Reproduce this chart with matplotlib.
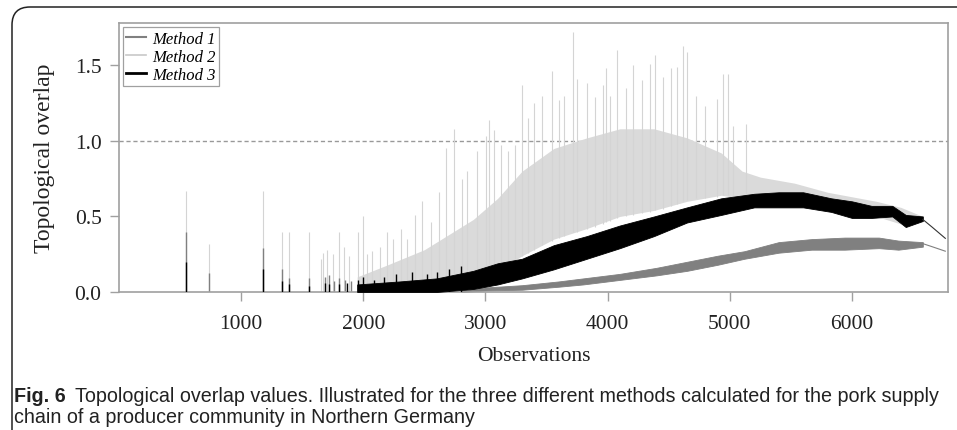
import numpy as np
import matplotlib
matplotlib.use("Agg")
import matplotlib.pyplot as plt
from matplotlib.lines import Line2D
from matplotlib.patches import FancyBboxPatch
from matplotlib.transforms import IdentityTransform

# ---- data ----
# Method 1 (mid grey): band envelope + early spikes
m1_x = [2800, 3000, 3300, 3600, 3800, 4100, 4400, 4650, 4900, 5120, 5400, 5670, 5940, 6220, 6380, 6580]
m1_lo = [0.00, 0.01, 0.015, 0.035, 0.05, 0.08, 0.11, 0.14, 0.18, 0.22, 0.26, 0.28, 0.28, 0.29, 0.28, 0.30]
m1_hi = [0.01, 0.03, 0.045, 0.07, 0.09, 0.12, 0.16, 0.20, 0.24, 0.27, 0.33, 0.35, 0.36, 0.36, 0.34, 0.33]
m1_tail_x = [6580, 6655, 6764]
m1_tail_y = [0.32, 0.30, 0.27]
m1_spike_x = [547, 736, 1179, 1335, 1395, 1559, 1690, 1720, 1760, 1800, 1850, 1900]
m1_spike_y = [0.40, 0.125, 0.29, 0.15, 0.095, 0.09, 0.10, 0.11, 0.07, 0.09, 0.08, 0.07]

# Method 2 (light grey): dense cloud envelope + tall spikes
m2_x = [1950, 2200, 2500, 2700, 2900, 3100, 3300, 3560, 3830, 4100, 4380, 4650, 4930, 5100, 5250, 5530, 5800, 6000, 6200, 6400, 6580]
m2_lo = [0.00, 0.00, 0.02, 0.05, 0.08, 0.14, 0.24, 0.35, 0.42, 0.50, 0.54, 0.60, 0.64, 0.62, 0.63, 0.62, 0.58, 0.53, 0.50, 0.45, 0.47]
m2_hi = [0.10, 0.18, 0.28, 0.38, 0.48, 0.62, 0.80, 0.95, 1.02, 1.08, 1.08, 1.02, 0.92, 0.80, 0.76, 0.72, 0.66, 0.63, 0.60, 0.56, 0.50]
m2_spike_x = [547, 736, 1179, 1335, 1395, 1559, 1657, 1673, 1700, 1753, 1799, 1846, 1881, 1958, 1994,
              2032, 2073, 2136, 2196, 2240, 2305, 2360, 2423, 2483, 2551, 2622, 2680, 2745, 2811, 2852,
              2934, 3003, 3031, 3071, 3126, 3181, 3244, 3296, 3345, 3400, 3465, 3547, 3600, 3643, 3714,
              3747, 3834, 3897, 3964, 3987, 4019, 4080, 4150, 4209, 4280, 4345, 4386, 4450, 4515, 4564,
              4619, 4652, 4720, 4797, 4893, 4942, 4988, 5029, 5130]
m2_spike_y = [0.67, 0.32, 0.67, 0.40, 0.40, 0.40, 0.22, 0.26, 0.28, 0.25, 0.40, 0.30, 0.24, 0.40, 0.50,
              0.25, 0.27, 0.30, 0.40, 0.35, 0.42, 0.35, 0.51, 0.60, 0.46, 0.66, 0.95, 1.08, 0.75, 0.80,
              0.93, 1.03, 1.14, 1.07, 0.97, 0.93, 0.97, 1.37, 1.15, 1.25, 1.30, 1.46, 1.27, 1.30, 1.72,
              1.41, 1.38, 1.29, 1.37, 1.48, 1.30, 1.60, 1.35, 1.50, 1.40, 1.51, 1.57, 1.42, 1.48, 1.49,
              1.63, 1.59, 1.30, 1.23, 1.28, 1.44, 1.44, 1.10, 1.11]
m2_spike_lo = [0.0] * 26 + [0.05, 0.06, 0.07, 0.07, 0.10, 0.13, 0.14, 0.15, 0.18, 0.20, 0.22, 0.24, 0.26,
                            0.28, 0.31, 0.34, 0.36, 0.37, 0.40, 0.40, 0.42, 0.43, 0.45, 0.46, 0.47, 0.49,
                            0.50, 0.51, 0.52, 0.53, 0.54, 0.55, 0.57, 0.58, 0.60, 0.61, 0.62, 0.62, 0.63,
                            0.64, 0.64, 0.64, 0.63]

# Method 3 (black): band envelope + spikes
m3_x = [1950, 2300, 2600, 2900, 3100, 3300, 3560, 3830, 4100, 4380, 4650, 4930, 5200, 5400, 5600, 5830, 6000, 6160, 6330, 6440, 6580]
m3_lo = [0.00, 0.00, 0.00, 0.02, 0.05, 0.09, 0.15, 0.22, 0.29, 0.37, 0.46, 0.51, 0.56, 0.56, 0.56, 0.53, 0.49, 0.49, 0.50, 0.43, 0.47]
m3_hi = [0.05, 0.07, 0.09, 0.14, 0.19, 0.22, 0.31, 0.37, 0.44, 0.50, 0.56, 0.62, 0.65, 0.66, 0.66, 0.62, 0.60, 0.57, 0.57, 0.51, 0.50]
m3_tail_x = [6580, 6655, 6764]
m3_tail_y = [0.48, 0.43, 0.355]
m3_spike_x = [547, 1179, 1335, 1395, 1559, 1690, 1720, 1800, 1870, 1960, 2000, 2090, 2170, 2270, 2400, 2520, 2600, 2700, 2800]
m3_spike_y = [0.20, 0.15, 0.075, 0.05, 0.04, 0.06, 0.05, 0.05, 0.06, 0.08, 0.10, 0.08, 0.10, 0.12, 0.13, 0.12, 0.13, 0.15, 0.17]

labels = ["Method 1", "Method 2", "Method 3"]
c1, c2, c3 = "#808080", "#d4d4d4", "#000000"

serif = ["Liberation Serif", "DejaVu Serif"]
sans = ["Liberation Sans", "DejaVu Sans"]

fig = plt.figure(figsize=(9.57, 4.31), dpi=100)
ax = fig.add_axes([0.1243, 0.3202, 0.8663, 0.6241])

# light grey cloud
ax.fill_between(m2_x, m2_lo, m2_hi, color="#dadada", lw=0, zorder=1)
ax.vlines(m2_spike_x, m2_spike_lo, m2_spike_y, color=c2, lw=0.8, zorder=1)

# mid grey
ax.vlines(m1_spike_x, 0, m1_spike_y, color=c1, lw=1.0, zorder=2)
ax.fill_between(m1_x, m1_lo, m1_hi, color=c1, lw=0.6, edgecolor=c1, zorder=2)
ax.plot(m1_tail_x, m1_tail_y, color=c1, lw=0.8, zorder=2)

# black
ax.vlines(m3_spike_x, 0, m3_spike_y, color=c3, lw=1.0, zorder=3)
ax.fill_between(m3_x, m3_lo, m3_hi, color=c3, lw=0.6, edgecolor=c3, zorder=3)
ax.plot(m3_tail_x, m3_tail_y, color="#333333", lw=0.8, zorder=3)

ax.axhline(1.0, color="#999999", lw=1.0, ls=(0, (3, 2)), zorder=0)

ax.set_xlim(0, 6786)
ax.set_ylim(0, 1.78)
ax.set_xticks([1000, 2000, 3000, 4000, 5000, 6000])
ax.set_yticks([0.0, 0.5, 1.0, 1.5])
ax.set_yticklabels(["0.0", "0.5", "1.0", "1.5"])
for s in ax.spines.values():
    s.set_color("#a0a0a0")
    s.set_linewidth(1.2)
ax.tick_params(direction="out", length=6.5, width=1.0, color="#a0a0a0",
               labelsize=15.5, labelcolor="#222222")
ax.tick_params(axis="x", pad=9)
ax.tick_params(axis="y", pad=6)
for t in ax.get_xticklabels() + ax.get_yticklabels():
    t.set_family(serif)

ax.set_xlabel("Observations", family=serif, fontsize=15.5, color="#222222", labelpad=10)
ax.set_ylabel("Topological overlap", family=serif, fontsize=17, color="#222222", labelpad=14)

handles = [Line2D([], [], color=c1, lw=1.5),
           Line2D([], [], color="#c8c8c8", lw=1.2),
           Line2D([], [], color=c3, lw=2.0)]
leg = ax.legend(handles, labels, loc="upper left", fancybox=False, framealpha=1,
                edgecolor="#a0a0a0", borderaxespad=0.25, handlelength=1.2, handletextpad=0.35,
                labelspacing=0.12, borderpad=0.2,
                prop={"family": serif, "style": "italic", "size": 12})
leg.get_frame().set_linewidth(0.9)

# caption
fs = 14.2
t1 = fig.text(14 / 957, 1 - 397 / 431, "Fig. 6", family=sans, weight="bold",
              fontsize=fs, va="center", color="#222222")
fig.canvas.draw()
bb = t1.get_window_extent()
fig.text((bb.x1 + 9) / 957, 1 - 397 / 431,
         "Topological overlap values. Illustrated for the three different methods calculated for the pork supply",
         family=sans, fontsize=fs, va="center", color="#222222")
fig.text(14 / 957, 1 - 418 / 431, "chain of a producer community in Northern Germany",
         family=sans, fontsize=fs, va="center", color="#222222")

# outer rounded frame of the figure box
frame = FancyBboxPatch((12, -60), 1000, 483, boxstyle="round,pad=0,rounding_size=18",
                       transform=IdentityTransform(), fill=False, edgecolor="#222222", lw=1.1)
fig.patches.append(frame)

fig.savefig("out.png", dpi=100)
